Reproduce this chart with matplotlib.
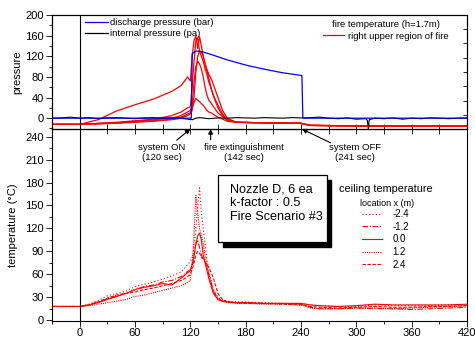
import matplotlib
matplotlib.use("Agg")
import matplotlib.pyplot as plt
from matplotlib.lines import Line2D
from matplotlib.patches import Rectangle
from matplotlib.ticker import MultipleLocator, NullFormatter

plt.rcParams['font.family'] = ['Liberation Sans', 'DejaVu Sans']

# ---------------- data ----------------
# bottom panel: ceiling temperature (deg C) at location x (m)
t_ceil = [-30, 0, 10, 20, 30, 40, 50, 60, 70, 80, 90, 100, 110, 115, 120, 123, 126, 128, 130,
          132, 134, 136, 138, 140, 145, 150, 155, 160, 170, 180, 200, 220, 240, 250, 260, 280,
          300, 320, 340, 360, 380, 400, 420]
ceil_m24 = [18, 18, 21, 26, 32, 35, 38, 44, 47, 50, 54, 58, 63, 70, 77, 85, 120, 150, 173,
            140, 120, 100, 80, 65, 40, 30, 26, 25, 24, 24, 23, 22, 22, 20, 19, 18, 18, 20, 19,
            19, 19, 20, 20]
ceil_m12 = [18, 18, 20, 24, 28, 32, 35, 40, 44, 46, 50, 52, 57, 62, 66, 75, 100, 105, 95,
            85, 80, 78, 70, 60, 38, 28, 25, 24, 23, 23, 22, 22, 21, 17, 15, 15, 16, 15, 15,
            14, 15, 16, 17]
ceil_00 = [18, 18, 20, 23, 27, 31, 35, 40, 43, 45, 48, 46, 55, 60, 65, 78, 100, 110, 114,
           105, 85, 75, 65, 55, 35, 27, 25, 24, 23, 23, 22, 22, 22, 20, 19, 18, 19, 21, 20,
           20, 20, 20, 21]
ceil_p12 = [18, 18, 19, 21, 23, 25, 27, 31, 33, 36, 39, 42, 45, 48, 52, 90, 163, 140, 120,
            110, 100, 85, 72, 60, 38, 28, 24, 23, 22, 22, 21, 21, 20, 16, 15, 15, 16, 16, 15,
            16, 17, 18, 19]
ceil_p24 = [18, 18, 20, 24, 29, 33, 35, 37, 40, 42, 45, 48, 52, 55, 60, 70, 85, 90, 88,
            82, 80, 76, 72, 70, 55, 35, 27, 24, 23, 22, 22, 21, 20, 18, 17, 16, 17, 18, 17,
            17, 18, 18, 19]
ceil_labels = ['-2.4', '-1.2', '0.0', '1.2', '2.4']

# top panel: discharge pressure (bar)
t_dis = [-30, 121, 122, 126, 130, 140, 160, 180, 200, 220, 240, 241, 242, 420]
p_dis = [0, 0, 125, 130, 130, 125, 113, 103, 95, 88, 83, 82, 0, 0]

# top panel: internal pressure (pa)
t_int = [-30, -20, -10, -5, 0, 10, 20, 30, 40, 50, 60, 70, 80, 90, 100, 110, 118, 122, 126,
         130, 140, 150, 160, 170, 180, 190, 200, 210, 220, 230, 240, 250, 260, 270, 280, 290,
         300, 310, 312, 313, 314, 320, 330, 340, 350, 360, 370, 380, 390, 400, 410, 420]
p_int = [0, 0.5, 2, 1, 0, 1, -1, 0.5, 1, 0, -1, 0.5, 1, 0, 0.5, -0.5, -2, -3, 0, 1, -1, 0.5,
         0, 1, 0.5, 0, 1, 0.5, 0, 1, 0.5, 1, 2, 0, -1, 0.5, -2, -1, -4, -22, -3, 0, -1, 0.5,
         -2, 0, -1, 0.5, 0, -1, 0, 0.5]

# top panel: fire temperature (h=1.7m), right upper region of fire
t_fire = [-30, 0, 20, 40, 60, 80, 100, 110, 117, 120, 122, 124, 126, 128, 130, 132, 134, 136,
          138, 140, 143, 146, 150, 155, 160, 170, 200, 240, 250, 300, 360, 420]
fire_a = [-12, -12, -3, 14, 26, 37, 52, 63, 80, 72, 120, 150, 160, 135, 158, 140, 120, 105,
          92, 78, 55, 38, 20, 5, -4, -8, -9, -10, -14, -15, -15, -15]
fire_b = [-12, -12, -10, -8, -5, -2, 5, 12, 20, 22, 60, 110, 150, 155, 130, 120, 110, 95,
          85, 70, 55, 40, 25, 8, -3, -8, -9, -10, -14, -15, -15, -15]
fire_c = [-12, -12, -11, -9, -7, -5, -2, 2, 8, 10, 20, 30, 38, 35, 32, 28, 25, 20, 15, 12,
          10, 6, 2, -2, -6, -8, -9, -10, -14, -15, -15, -15]
fire_d = [-12, -12, -11, -10, -8, -6, -3, 0, 5, 8, 15, 40, 90, 120, 130, 128, 120, 105, 95,
          85, 75, 60, 40, 15, 0, -8, -9, -10, -14, -15, -15, -15]
fire_e = [-12, -12, -10, -9, -6, -3, 0, 5, 12, 15, 25, 70, 100, 110, 105, 95, 80, 60, 45, 35,
          28, 20, 10, 3, -3, -8, -9, -10, -14, -15, -15, -15]

# ---------------- figure ----------------
W, H = 475, 337
fig = plt.figure(figsize=(W / 100, H / 100), dpi=100)

def fx(px):
    return px / W

def fy(py):
    return 1 - py / H

L, R = 52, 467
ax_top = fig.add_axes([fx(L), fy(129), fx(R) - fx(L), fy(15) - fy(129)])
ax_bot = fig.add_axes([fx(L), fy(321), fx(R) - fx(L), fy(129) - fy(321)])

RED = '#ff0000'

# ---- top panel ----
for f in [fire_a, fire_b, fire_c, fire_d, fire_e]:
    ax_top.plot(t_fire, f, color=RED, lw=0.9)
ax_top.plot(t_int, p_int, color='black', lw=0.8)
ax_top.plot(t_dis, p_dis, color='#0000ff', lw=0.9)
ax_top.axvline(0, color='black', lw=0.8)
ax_top.set_xlim(-30, 420)
ax_top.set_ylim(-21, 200)
ax_top.set_yticks([0, 40, 80, 120, 160, 200])
ax_top.yaxis.set_minor_locator(MultipleLocator(20))
ax_top.xaxis.set_major_locator(MultipleLocator(60))
ax_top.xaxis.set_minor_locator(MultipleLocator(30))
ax_top.xaxis.set_major_formatter(NullFormatter())
ax_top.tick_params(axis='x', which='both', direction='inout', length=7, width=0.6)
ax_top.tick_params(axis='y', which='major', direction='out', length=4, width=0.6, labelsize=8, pad=2)
ax_top.tick_params(axis='y', which='minor', direction='out', length=2, width=0.6)
ax_top.set_ylabel('pressure', fontsize=8)
ax_top.yaxis.set_label_coords((22 - L) / (R - L), 0.5)
ax_top.set_zorder(3)
ax_top.patch.set_alpha(0)
tw = ax_top.twinx()
tw.set_ylim(0, 800)
tw.yaxis.set_major_locator(MultipleLocator(100))
tw.yaxis.set_major_formatter(NullFormatter())
tw.tick_params(axis='y', direction='in', length=3, width=0.6)
for a in (ax_top, tw):
    for s in a.spines.values():
        s.set_linewidth(0.8)

h_dis = Line2D([], [], color='#0000ff', lw=0.9)
h_int = Line2D([], [], color='black', lw=0.9)
leg1 = ax_top.legend([h_dis, h_int], ['discharge pressure (bar)', 'internal pressure (pa)'],
                     loc='upper left', bbox_to_anchor=((85 - L) / (R - L), (129 - 18) / 114),
                     frameon=False, fontsize=6.8, handlelength=2.4, handletextpad=0.3,
                     labelspacing=0.25, borderpad=0, borderaxespad=0)
ax_top.add_artist(leg1)
h_fire = Line2D([], [], color=RED, lw=0.9)
leg2 = ax_top.legend([h_fire], ['right upper region of fire'], title='fire temperature (h=1.7m)',
                     loc='upper left', bbox_to_anchor=((323 - L) / (R - L), (129 - 20) / 114),
                     frameon=False, fontsize=6.8, title_fontsize=6.8, handlelength=2.2,
                     handletextpad=0.5, borderpad=0, borderaxespad=0, labelspacing=0.2)
leg2._legend_box.sep = 2

# ---- bottom panel ----
styles = [(0, (1, 2)), (0, (5, 1.5, 1, 1.5)), '-', (0, (1, 1)), (0, (3, 1.5))]
series = [ceil_m24, ceil_m12, ceil_00, ceil_p12, ceil_p24]
handles = []
for s, ls, lab in zip(series, styles, ceil_labels):
    ln, = ax_bot.plot(t_ceil, s, color=RED, lw=0.8, ls=ls, label=lab)
    handles.append(ln)
ax_bot.axvline(0, color='black', lw=0.8)
ax_bot.set_xlim(-30, 420)
ax_bot.set_ylim(-1, 250)
ax_bot.set_xticks([0, 60, 120, 180, 240, 300, 360, 420])
ax_bot.xaxis.set_minor_locator(MultipleLocator(30))
ax_bot.set_yticks([0, 30, 60, 90, 120, 150, 180, 210, 240])
ax_bot.yaxis.set_minor_locator(MultipleLocator(15))
ax_bot.tick_params(axis='x', which='major', direction='out', length=4, width=0.6, labelsize=8, pad=1)
ax_bot.tick_params(axis='x', which='minor', direction='out', length=2, width=0.6)
ax_bot.tick_params(axis='y', which='major', direction='out', length=4, width=0.6, labelsize=8, pad=2)
ax_bot.tick_params(axis='y', which='minor', direction='out', length=2, width=0.6)
ax_bot.set_ylabel('temperature (\u00b0C)', fontsize=8)
ax_bot.yaxis.set_label_coords((18 - L) / (R - L), 0.5)
for s in ax_bot.spines.values():
    s.set_linewidth(0.8)

leg3 = ax_bot.legend(handles=handles, loc='upper left',
                     bbox_to_anchor=((362 - L) / (R - L), (321 - 209) / 192),
                     frameon=False, fontsize=7, handlelength=2.1, handletextpad=1.0,
                     labelspacing=0.28, borderpad=0, borderaxespad=0)
ax_bot.text((386 - L) / (R - L), (321 - 189) / 192, 'ceiling temperature', transform=ax_bot.transAxes,
            ha='center', va='center', fontsize=7.8)
ax_bot.text((387 - L) / (R - L), (321 - 203) / 192, 'location x (m)', transform=ax_bot.transAxes,
            ha='center', va='center', fontsize=6.5)

# text box with shadow
def axf(px, py):
    return (px - L) / (R - L), (321 - py) / 192

x0, y0 = axf(223, 247)
x1, y1 = axf(331, 180)
ax_bot.add_patch(Rectangle((x0, y0), x1 - x0, y1 - y0, transform=ax_bot.transAxes,
                           facecolor='black', edgecolor='black', zorder=5))
x0, y0 = axf(218, 242)
x1, y1 = axf(327, 175)
ax_bot.add_patch(Rectangle((x0, y0), x1 - x0, y1 - y0, transform=ax_bot.transAxes,
                           facecolor='white', edgecolor='black', lw=0.9, zorder=6))
tx, ty = axf(230, 203)
ax_bot.text(tx, ty, 'Nozzle D, 6 ea\nk-factor : 0.5\nFire Scenario #3', transform=ax_bot.transAxes,
            ha='left', va='center', fontsize=9.1, linespacing=1.2, zorder=7)

# annotations
ap = dict(arrowstyle='-|>', color='black', lw=0.8, mutation_scale=7, shrinkA=0, shrinkB=0)
ax_bot.annotate('system ON\n(120 sec)', xy=(120, 250), xytext=(88.7, 219), ha='center', va='center',
                fontsize=6.8, arrowprops=dict(ap), annotation_clip=False)
ax_bot.annotate('', xy=(142, 250), xytext=(142, 236), arrowprops=dict(ap), annotation_clip=False)
ax_bot.text(178.6, 219, 'fire extinguishment\n(142 sec)', ha='center', va='center', fontsize=6.8)
ax_bot.annotate('', xy=(241, 250), xytext=(272, 232), arrowprops=dict(ap), annotation_clip=False)
ax_bot.text(298.7, 219, 'system OFF\n(241 sec)', ha='center', va='center', fontsize=6.8)

fig.savefig('out.png', dpi=100)
